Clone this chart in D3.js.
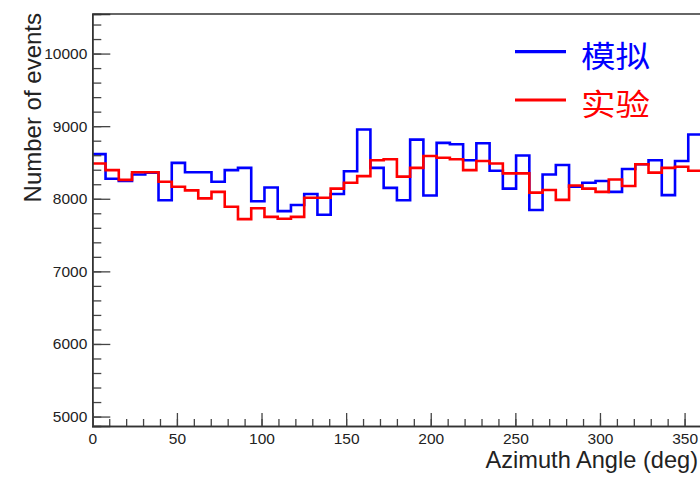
<!DOCTYPE html>
<html>
<head>
<meta charset="utf-8">
<script src="https://cdn.jsdelivr.net/npm/d3@7/dist/d3.min.js"></script>
<style>
  html, body { margin: 0; padding: 0; background: #fff; }
  svg { display: block; }
  text { font-family: "Liberation Sans", Arial, sans-serif; fill: #222; }
  .cjk { font-family: "Noto Sans CJK SC", sans-serif; }
</style>
</head>
<body>
<svg id="chart" width="700" height="478"></svg>
<script>
// Azimuth-angle distributions: simulation (模拟) vs. experiment (实验), 46 bins over 0–360 deg
const angleRange = [0, 360];
const binCount = 46;

const simCounts = [8615, 8275, 8245, 8335, 8360, 7980, 8495, 8365, 8365, 8235,
                   8395, 8425, 7965, 8155, 7830, 7915, 8065, 7780, 8065, 8380,
                   8955, 8425, 8150, 7980, 8815, 8045, 8770, 8750, 8530, 8765,
                   8385, 8140, 8595, 7845, 8335, 8465, 8165, 8220, 8245, 8095,
                   8410, 8475, 8530, 8050, 8520, 8885];

const expCounts = [8485, 8395, 8260, 8365, 8365, 8235, 8165, 8115, 8005, 8095,
                   7890, 7720, 7870, 7750, 7725, 7750, 8015, 8015, 8140, 8220,
                   8312, 8530, 8545, 8305, 8425, 8590, 8565, 8545, 8395, 8520,
                   8485, 8350, 8350, 8085, 8120, 7985, 8182, 8140, 8095, 8265,
                   8175, 8475, 8360, 8425, 8440, 8385];

const xMajorTicks = [0, 50, 100, 150, 200, 250, 300, 350];
const yMajorTicks = [5000, 6000, 7000, 8000, 9000, 10000];
const yDomain = [4870, 10545];

const legendItems = [
  { label: "模拟", color: "#0000ff" },
  { label: "实验", color: "#ff0000" }
];

const svg = d3.select("#chart");
const frame = { left: 92.3, right: 701.5, top: 14, bottom: 426 };

const x = d3.scaleLinear().domain(angleRange).range([frame.left, frame.right]);
const y = d3.scaleLinear().domain(yDomain).range([frame.bottom, frame.top]);

const binWidth = (angleRange[1] - angleRange[0]) / binCount;

// Step outline of a histogram
function stepPoints(counts) {
  const pts = counts.map((c, i) => [angleRange[0] + i * binWidth, c]);
  pts.push([angleRange[0] + counts.length * binWidth, counts[counts.length - 1]]);
  return pts;
}
const line = d3.line().x(d => x(d[0])).y(d => y(d[1])).curve(d3.curveStepAfter);

svg.append("defs").append("clipPath").attr("id", "plotClip")
  .append("rect").attr("x", frame.left).attr("y", frame.top)
  .attr("width", 700 - frame.left).attr("height", frame.bottom - frame.top);

const plot = svg.append("g").attr("clip-path", "url(#plotClip)");
plot.append("path").datum(stepPoints(simCounts))
  .attr("d", line).attr("fill", "none").attr("stroke", "#0000ff").attr("stroke-width", 2.6);
plot.append("path").datum(stepPoints(expCounts))
  .attr("d", line).attr("fill", "none").attr("stroke", "#ff0000").attr("stroke-width", 2.6);

// Frame top edge
svg.append("line").attr("x1", frame.left).attr("x2", 700).attr("y1", frame.top).attr("y2", frame.top)
  .attr("stroke", "#333").attr("stroke-width", 1.5);

// Y axis (ticks point into the plot)
const yMinor = d3.range(5000, 10545, 200).filter(v => v >= yDomain[0] && v <= yDomain[1]);
const yAxisMinor = d3.axisLeft(y).tickValues(yMinor).tickSize(-9).tickFormat("");
const yAxis = d3.axisLeft(y).tickValues(yMajorTicks).tickSize(-18).tickPadding(5).tickFormat(d3.format("d"));

const gyMinor = svg.append("g").attr("transform", `translate(${frame.left},0)`).call(yAxisMinor);
const gy = svg.append("g").attr("transform", `translate(${frame.left},0)`).call(yAxis);
[gy, gyMinor].forEach(g => {
  g.select(".domain").attr("stroke", "#333").attr("stroke-width", 1.5);
  g.selectAll(".tick line").attr("stroke", "#444").attr("stroke-width", 1.3);
});
gy.selectAll(".tick text").style("font-size", "15.5px").attr("fill", "#222");

// X axis
const xMinor = d3.range(0, 361, 10);
const xAxisMinor = d3.axisBottom(x).tickValues(xMinor).tickSize(-7).tickFormat("");
const xAxis = d3.axisBottom(x).tickValues(xMajorTicks).tickSize(-13).tickPadding(6.5).tickFormat(d3.format("d"));
const gxMinor = svg.append("g").attr("transform", `translate(0,${frame.bottom})`).call(xAxisMinor);
const gx = svg.append("g").attr("transform", `translate(0,${frame.bottom})`).call(xAxis);
[gx, gxMinor].forEach(g => {
  g.select(".domain").attr("stroke", "#333").attr("stroke-width", 1.5);
  g.selectAll(".tick line").attr("stroke", "#444").attr("stroke-width", 1.3);
});
gx.selectAll(".tick text").style("font-size", "15.5px").attr("fill", "#222");

// Axis titles
svg.append("text")
  .attr("x", 698).attr("y", 468)
  .attr("text-anchor", "end")
  .style("font-size", "23.6px")
  .text("Azimuth Angle (deg)");

svg.append("text")
  .attr("transform", "translate(41,13) rotate(-90)")
  .attr("text-anchor", "end")
  .style("font-size", "24px")
  .text("Number of events");

// Legend
const legend = svg.append("g");
legendItems.forEach((d, i) => {
  const ly = 51.7 + i * 48.3;
  legend.append("line")
    .attr("x1", 515).attr("x2", 566).attr("y1", ly).attr("y2", ly)
    .attr("stroke", d.color).attr("stroke-width", 3.2);
  legend.append("text")
    .attr("class", "cjk")
    .attr("transform", `translate(581,${ly + 2}) scale(1.15,1)`)
    .attr("dominant-baseline", "central")
    .style("font-size", "30px")
    .style("fill", d.color)
    .text(d.label);
});
</script>
</body>
</html>
